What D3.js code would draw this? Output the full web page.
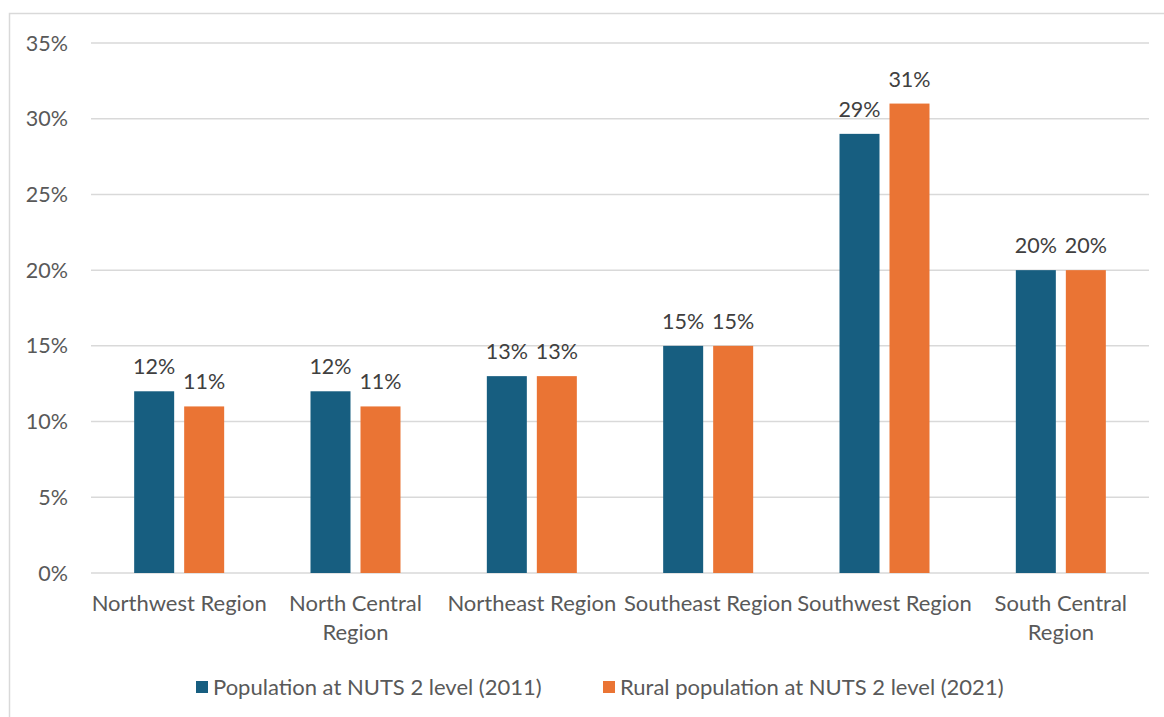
<!DOCTYPE html>
<html>
<head>
<meta charset="utf-8">
<script src="https://cdn.jsdelivr.net/npm/d3@7"></script>
<style>
  body { margin: 0; background: #fff; }
  svg { display: block; font-family: Lato, "Open Sans", sans-serif; }
</style>
</head>
<body>
<div id="chart"></div>
<script>
// values
const categories = ['Northwest Region', 'North Central Region', 'Northeast Region',
  'Southeast Region', 'Southwest Region', 'South Central Region'];
const categoryLines = [['Northwest Region'], ['North Central', 'Region'], ['Northeast Region'],
  ['Southeast Region'], ['Southwest Region'], ['South Central', 'Region']];
const pop2011 = [12, 12, 13, 15, 29, 20];
const rural2021 = [11, 11, 13, 15, 31, 20];
const seriesNames = ['Population at NUTS 2 level (2011)', 'Rural population at NUTS 2 level (2021)'];
const yTicks = [0, 5, 10, 15, 20, 25, 30, 35];

const colors = ['#175e80', '#ea7434'];
const width = 1164, height = 717;
const margin = {top: 43, right: 15, bottom: 144, left: 91};
const fs = 22;

const svg = d3.select('#chart').append('svg')
  .attr('width', width).attr('height', height);

// outer chart border
svg.append('rect')
  .attr('x', 9.5).attr('y', 13.5)
  .attr('width', width + 20).attr('height', height + 20)
  .attr('fill', 'none').attr('stroke', '#d9d9d9').attr('stroke-width', 1.5);

const x0 = d3.scaleBand().domain(categories).range([margin.left, width - margin.right]);
const x1 = d3.scaleBand().domain([0, 1])
  .range([x0.bandwidth() / 2 - 45, x0.bandwidth() / 2 + 45]).paddingInner(0.2);
const y = d3.scaleLinear().domain([0, 35]).range([height - margin.bottom, margin.top]);

// grid
svg.append('g').selectAll('line').data(yTicks).enter().append('line')
  .attr('x1', margin.left).attr('x2', width - margin.right)
  .attr('y1', d => y(d)).attr('y2', d => y(d))
  .attr('stroke', '#d9d9d9').attr('stroke-width', 1.5);

// y labels
svg.append('g').selectAll('text').data(yTicks).enter().append('text')
  .attr('x', 68).attr('y', d => y(d)).attr('dy', '0.35em')
  .attr('text-anchor', 'end').attr('fill', '#595959').attr('font-size', fs - 0.5)
  .text(d => d + '%');

const rows = categories.map((c, i) => ({c, i, vals: [pop2011[i], rural2021[i]]}));

const groups = svg.append('g').selectAll('g').data(rows).enter().append('g')
  .attr('transform', d => `translate(${x0(d.c)},0)`);

groups.selectAll('rect').data(d => d.vals.map((v, s) => ({v, s}))).enter().append('rect')
  .attr('x', d => x1(d.s)).attr('width', x1.bandwidth())
  .attr('y', d => y(d.v)).attr('height', d => y(0) - y(d.v))
  .attr('fill', d => colors[d.s]);

groups.selectAll('text.val').data(d => d.vals.map((v, s) => ({v, s}))).enter().append('text')
  .attr('class', 'val')
  .attr('x', d => x1(d.s) + x1.bandwidth() / 2).attr('y', d => y(d.v) - 17)
  .attr('text-anchor', 'middle').attr('fill', '#404040').attr('font-size', fs - 0.5)
  .text(d => d.v + '%');

// category labels
groups.append('text')
  .attr('text-anchor', 'middle').attr('fill', '#595959').attr('font-size', fs)
  .attr('transform', `translate(${x0.bandwidth() / 2},${y(0) + 38})`)
  .selectAll('tspan').data(d => categoryLines[d.i]).enter().append('tspan')
  .attr('x', 0).attr('y', (d, i) => i * 29)
  .text(d => d);

// legend
const legendX = [196, 603];
const legend = svg.append('g').selectAll('g').data(seriesNames).enter().append('g')
  .attr('transform', (d, i) => `translate(${legendX[i]},687)`);
legend.append('rect').attr('x', 0).attr('y', -6).attr('width', 12).attr('height', 12)
  .attr('fill', (d, i) => colors[i]);
legend.append('text').attr('x', 17).attr('dy', '0.35em')
  .attr('fill', '#595959').attr('font-size', fs).text(d => d);
</script>
</body>
</html>
